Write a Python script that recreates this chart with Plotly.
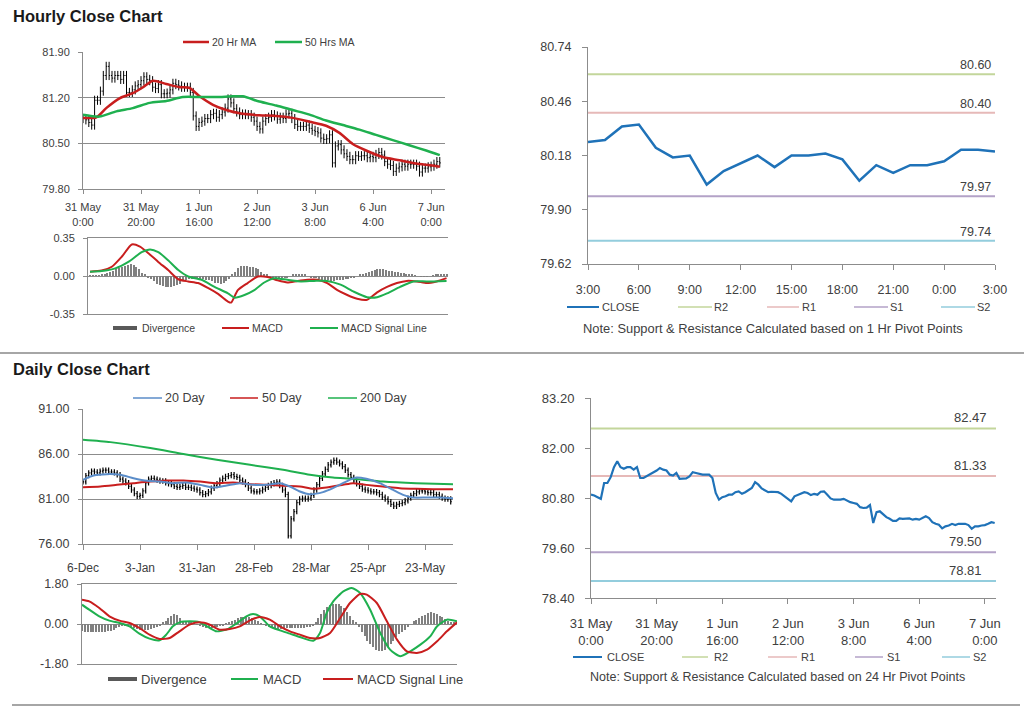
import plotly.graph_objects as go

W, H = 1024, 706
def px(x): return x / W
def py(y): return 1 - y / H

FONT = "Liberation Sans, Arial, Helvetica, sans-serif"
TXT = "#404040"
AX = "#8c8c8c"
GRID = "#8c8c8c"
RED = "#c81e1e"
GREEN = "#1fb04f"
BLUE = "#1f72b8"
LBLUE = "#5b8dc9"
GRAY = "#808080"
PIV_COLORS = ["#c3d69b", "#e6b9b8", "#b3a2c7", "#93cddd"]

# ---------------- data ----------------
# hourly close, 31 May 0:00 .. 7 Jun 3:00 (one value per hour)
hour_close = [
    80.88, 80.86, 80.82, 80.78, 81.16, 81.16, 81.30, 81.54, 81.68, 81.54,
    81.50, 81.54, 81.54, 81.48, 81.54, 81.28, 81.28, 81.32, 81.38, 81.40,
    81.46, 81.52, 81.48, 81.46, 81.36, 81.34, 81.40, 81.26, 81.26, 81.27,
    81.32, 81.42, 81.40, 81.38, 81.36, 81.36, 81.36, 81.28, 80.92, 80.76,
    80.82, 80.84, 80.88, 80.88, 80.94, 80.96, 80.90, 80.94, 80.98, 81.04,
    81.18, 81.12, 81.03, 80.98, 80.94, 80.95, 80.94, 80.94, 80.90, 80.84,
    80.76, 80.72, 80.84, 80.88, 80.90, 80.94, 80.92, 80.87, 80.90, 80.88,
    80.95, 80.96, 80.88, 80.79, 80.76, 80.76, 80.76, 80.78, 80.73, 80.70,
    80.68, 80.66, 80.58, 80.56, 80.57, 80.63, 80.20, 80.46, 80.48, 80.40,
    80.34, 80.30, 80.25, 80.25, 80.31, 80.30, 80.31, 80.31, 80.28, 80.30,
    80.28, 80.33, 80.36, 80.32, 80.22, 80.18, 80.16, 80.07, 80.12, 80.14,
    80.18, 80.15, 80.18, 80.18, 80.18, 80.15, 80.06, 80.12, 80.12, 80.14,
    80.15, 80.18, 80.22, 80.20,
]
hour_tickvals = [0, 20, 40, 60, 80, 100, 120]
hour_ticktext = ["31 May<br>0:00", "31 May<br>20:00", "1 Jun<br>16:00", "2 Jun<br>12:00",
                 "3 Jun<br>8:00", "6 Jun<br>4:00", "7 Jun<br>0:00"]

ma20h_x = [0, 4.6, 8, 12.6, 17.2, 20.7, 24.1, 28.7, 33.3, 36.7, 40.2, 44.8, 49.4, 54, 60.8,
           66.6, 72.3, 78.1, 83.8, 88.4, 93, 97.6, 103.3, 109.1, 114.8, 120.6, 123]
ma20h_y = [80.89, 80.90, 81.04, 81.19, 81.27, 81.36, 81.46, 81.41, 81.36, 81.35, 81.22, 81.09,
           81.01, 80.96, 80.93, 80.92, 80.89, 80.83, 80.77, 80.66, 80.49, 80.39, 80.29, 80.24,
           80.19, 80.16, 80.14]
ma50h_x = [0, 5.7, 11.5, 17.2, 23, 28.7, 34.4, 40.2, 45.9, 51.7, 55.1, 60.8, 66.6, 72.3, 78.1,
           83.8, 89.6, 95.3, 101, 106.8, 112.5, 118.3, 123]
ma50h_y = [80.94, 80.91, 80.99, 81.04, 81.12, 81.15, 81.21, 81.21, 81.21, 81.22, 81.22, 81.14,
           81.08, 81.01, 80.94, 80.85, 80.78, 80.71, 80.63, 80.55, 80.47, 80.39, 80.32]

hmacd_x = [0, 4, 7.5, 11, 14.4, 17.2, 20.1, 23.5, 26.9, 30.4, 33.8, 37.2, 40.6, 44.1, 47.5,
           48.6, 50.9, 54.3, 57.8, 61.2, 64.6, 68, 71.5, 74.9, 78.3, 81.7, 85.2, 88.6, 92,
           95.4, 98.9, 102.3, 105.7, 109.1, 112.6, 116, 119.4, 122.8]
hmacd_y = [0.04, 0.05, 0.085, 0.18, 0.29, 0.27, 0.21, 0.13, 0.055, -0.03, -0.05, -0.065, -0.11,
           -0.165, -0.235, -0.245, -0.13, -0.065, -0.005, -0.01, -0.04, -0.06, -0.045, -0.035,
           -0.035, -0.065, -0.13, -0.175, -0.21, -0.22, -0.15, -0.10, -0.065, -0.045, -0.05,
           -0.065, -0.05, -0.02]
hsig_x = [0, 4, 8.7, 13.2, 17.8, 20.7, 23.5, 26.9, 30.4, 33.8, 38.4, 42.9, 47.5, 49.8, 53.2,
          56.6, 60, 63.5, 68, 72.6, 77.2, 81.7, 86.3, 90.9, 95.4, 98.9, 102.3, 106.8, 111.4,
          116, 122.8]
hsig_y = [0.04, 0.045, 0.07, 0.13, 0.22, 0.245, 0.22, 0.145, 0.055, -0.005, -0.035, -0.10,
          -0.16, -0.20, -0.175, -0.13, -0.06, -0.02, -0.035, -0.05, -0.045, -0.045, -0.08,
          -0.145, -0.195, -0.195, -0.16, -0.10, -0.05, -0.05, -0.045]
hdiv = [
    0.005, 0.005, 0.005, 0.005, 0.01, 0.02, 0.03, 0.04, 0.05, 0.06,
    0.07, 0.08, 0.09, 0.10, 0.11, 0.10, 0.08, 0.06, 0.03, 0.01,
    -0.01, -0.03, -0.05, -0.07, -0.08, -0.09, -0.10, -0.10, -0.10, -0.09,
    -0.08, -0.07, -0.05, -0.04, -0.03, -0.025, -0.02, -0.02, -0.025, -0.03,
    -0.035, -0.04, -0.05, -0.06, -0.065, -0.07, -0.06, -0.05, -0.03, 0.01,
    0.04, 0.07, 0.09, 0.09, 0.09, 0.085, 0.08, 0.07, 0.06, 0.04,
    0.02, 0.01, -0.005, -0.01, -0.015, -0.02, -0.02, -0.015, -0.01, 0.0,
    0.01, 0.02, 0.02, 0.015, 0.01, 0.0, -0.01, -0.015, -0.02, -0.03,
    -0.035, -0.04, -0.04, -0.045, -0.045, -0.04, -0.04, -0.035, -0.03, -0.025,
    -0.02, -0.01, 0.0, 0.01, 0.02, 0.03, 0.04, 0.05, 0.055, 0.06,
    0.06, 0.06, 0.055, 0.05, 0.045, 0.04, 0.035, 0.03, 0.025, 0.02,
    0.015, 0.01, 0.005, 0.0, -0.005, -0.005, -0.005, 0.0, 0.005, 0.01,
    0.015, 0.02, 0.02, 0.02,
]

# last 24 hours (1 Hr pivot chart)
last24_close = [80.25, 80.26, 80.33, 80.34, 80.22, 80.17, 80.18, 80.03, 80.10, 80.14, 80.18,
                80.12, 80.18, 80.18, 80.19, 80.16, 80.05, 80.13, 80.09, 80.13, 80.13, 80.15,
                80.21, 80.21, 80.20]
last24_tickvals = [0, 3, 6, 9, 12, 15, 18, 21, 24]
last24_ticktext = ["3:00", "6:00", "9:00", "12:00", "15:00", "18:00", "21:00", "0:00", "3:00"]

pivot_names = ["R2", "R1", "S1", "S2"]
pivot_1h = [80.60, 80.40, 79.97, 79.74]
pivot_24h = [82.47, 81.33, 79.50, 78.81]

# daily close, 6-Dec .. early June (business days)
daily_close = [
    82.9, 83.6, 83.9, 84.1, 84.0, 83.9, 84.1, 84.2, 84.2, 84.0,
    84.0, 83.9, 83.7, 83.2, 83.0, 82.8, 82.4, 82.0, 81.6, 81.3,
    81.4, 81.9, 82.8, 83.2, 83.3, 83.2, 83.1, 83.0, 83.0, 82.8,
    82.7, 82.6, 82.4, 82.3, 82.4, 82.5, 82.3, 82.3, 82.2, 82.1,
    82.0, 81.7, 81.5, 81.6, 81.8, 82.2, 82.5, 82.7, 83.1, 83.3,
    83.5, 83.6, 83.7, 83.5, 83.4, 83.1, 82.9, 82.6, 82.2, 81.9,
    81.8, 81.8, 81.9, 82.1, 82.3, 82.5, 82.7, 82.8, 82.9, 82.5,
    82.0, 81.5, 76.9, 78.8, 79.6, 80.6, 81.0, 81.1, 81.0, 81.1,
    81.4, 82.0, 82.6, 83.3, 83.8, 84.3, 84.8, 85.1, 85.3, 85.1,
    84.9, 84.6, 84.2, 83.7, 83.4, 83.0, 82.7, 82.4, 82.1, 82.0,
    81.9, 81.8, 81.8, 81.7, 81.5, 81.2, 81.0, 80.7, 80.4, 80.2,
    80.4, 80.5, 80.6, 80.8, 81.1, 81.4, 81.6, 81.8, 81.9, 81.9,
    81.8, 81.7, 81.7, 81.5, 81.5, 81.3, 81.1, 81.0, 81.0, 80.7,
]
daily_tickvals = [0, 20, 40, 60, 80, 100, 120]
daily_ticktext = ["6-Dec", "3-Jan", "31-Jan", "28-Feb", "28-Mar", "25-Apr", "23-May"]

d20_x = [0, 3.7, 8.4, 13.1, 17.7, 22.4, 27.1, 31.7, 36.4, 41.1, 45.7, 50.4, 55.1, 59.7, 64.4,
         69.1, 72.6, 76.1, 79.6, 84.2, 87.7, 91.2, 93.6, 95.9, 99.4, 104.1, 108.8, 112.3,
         115.8, 120.4, 125.1, 129.8]
d20_y = [83.13, 83.61, 83.76, 83.69, 83.31, 83.02, 82.94, 82.76, 82.83, 82.57, 82.27, 82.50,
         82.76, 82.57, 82.57, 82.76, 82.39, 81.83, 81.53, 81.76, 82.20, 82.76, 83.13, 83.39,
         83.24, 82.76, 82.01, 81.46, 81.16, 81.16, 81.16, 81.09]
d50_x = [0, 6.1, 11.9, 17.7, 23.6, 29.4, 35.2, 41.1, 46.9, 52.7, 58.6, 64.4, 70.2, 76.1, 80.7,
         85.4, 91.2, 94.7, 99.4, 105.2, 111.1, 116.9, 122.8, 129.8]
d50_y = [82.31, 82.39, 82.57, 82.76, 82.94, 83.05, 83.05, 82.94, 82.76, 82.83, 82.65, 82.57,
         82.46, 82.39, 82.13, 82.27, 82.57, 82.76, 82.57, 82.39, 82.20, 82.13, 82.09, 82.09]
d200_x = [0, 9.6, 23.6, 35.2, 46.9, 58.6, 70.2, 79.6, 87.7, 94.7, 105.2, 116.9, 129.8]
d200_y = [87.58, 87.32, 86.66, 85.99, 85.36, 84.80, 84.24, 83.69, 83.39, 83.24, 82.94, 82.76,
          82.65]

dmacd_x = [0, 2.5, 6, 9.5, 13, 16.5, 19.9, 23.4, 26.9, 29.2, 31.5, 33.8, 37.3, 40.8, 44.3,
           46.6, 50.1, 53.5, 57, 59.3, 61.6, 65.1, 68.6, 72.1, 75.5, 80.2, 82.5, 84.8, 87.1,
           90.6, 93.5, 96.4, 99.9, 103.4, 106.8, 110.3, 113.8, 117.3, 120.7, 123.1, 126.5, 130]
dmacd_y = [0.87, 0.645, 0.345, 0.15, 0.045, -0.105, -0.435, -0.66, -0.735, -0.48, -0.105,
           0.075, 0.12, 0.075, -0.18, -0.33, -0.255, 0.015, 0.345, 0.45, 0.345, -0.105,
           -0.285, -0.435, -0.585, -0.75, -0.405, 0.495, 1.02, 1.47, 1.62, 1.395, 0.645,
           -0.405, -1.155, -1.455, -1.23, -0.93, -0.555, -0.105, 0.195, 0.12]
dsig_x = [0, 2.5, 6, 9.5, 13, 16.5, 19.9, 23.4, 26.9, 30.4, 33.8, 37.3, 40.8, 44.3, 47.7,
          51.2, 54.7, 58.2, 61.6, 65.1, 68.6, 72.1, 75.5, 79, 82.5, 86, 89.5, 92.9, 96.4,
          98.7, 102.2, 105.7, 109.2, 112.6, 116.1, 119.6, 123.1, 126.5, 130]
dsig_y = [1.095, 1.02, 0.72, 0.345, 0.15, 0.045, -0.18, -0.48, -0.675, -0.63, -0.33, -0.03,
          0.075, -0.03, -0.255, -0.225, -0.105, 0.165, 0.315, 0.195, -0.105, -0.33, -0.48,
          -0.63, -0.63, -0.405, 0.27, 0.945, 1.35, 1.32, 0.945, 0.12, -0.705, -1.23, -1.305,
          -1.155, -0.78, -0.33, 0.075]
ddiv = [
    -0.30, -0.35, -0.38, -0.38, -0.38, -0.37, -0.36, -0.35, -0.35, -0.33, -0.30, -0.25,
    -0.18, -0.12, -0.08, -0.05, -0.08, -0.12,
    -0.18, -0.22, -0.26, -0.28, -0.28, -0.26, -0.22, -0.18, -0.12, -0.05,
    0.05, 0.15, 0.28, 0.38, 0.45, 0.40, 0.25,
    0.15, 0.10, 0.08, 0.05, 0.02, -0.02,
    -0.08, -0.14, -0.18, -0.20, -0.20, -0.18, -0.14, -0.10, -0.05, 0.02,
    0.08, 0.14, 0.20, 0.26, 0.30, 0.33, 0.35, 0.33, 0.28, 0.20, 0.12, 0.04,
    -0.04, -0.10, -0.15, -0.18, -0.20, -0.22, -0.22, -0.21, -0.20, -0.20, -0.19, -0.18,
    -0.18, -0.17, -0.16, -0.15, -0.12, -0.08,
    0.05, 0.25, 0.45, 0.62, 0.75, 0.85, 0.90, 0.92, 0.90, 0.82, 0.70, 0.55, 0.38, 0.20, 0.05,
    -0.15, -0.35, -0.55, -0.75, -0.92, -1.05, -1.15, -1.20, -1.20, -1.15, -1.05, -0.90,
    -0.75, -0.60, -0.45,
    -0.35, -0.25, -0.12, 0.0,
    0.12, 0.20, 0.28, 0.35, 0.42, 0.48, 0.52, 0.50, 0.45, 0.38, 0.30, 0.22,
    0.15, 0.10, 0.08,
]


def ohlc_from_close(close, wick):
    # bar opens at the previous close; wick is a drawing style
    o = [close[0]] + close[:-1]
    hi = [max(a, b) + wick for a, b in zip(o, close)]
    lo = [min(a, b) - wick for a, b in zip(o, close)]
    return o, hi, lo


def fmt(vals):
    return [f"{v:.2f}" for v in vals]


hours = list(range(len(hour_close)))
days = list(range(len(daily_close)))

fig = go.Figure()

# ---- panel 1: hourly bars + MAs ----
o, hi, lo = ohlc_from_close(hour_close, 0.07)
fig.add_trace(go.Ohlc(x=hours, open=o, high=hi, low=lo, close=hour_close, xaxis="x", yaxis="y",
                      increasing=dict(line=dict(color="black", width=1)),
                      decreasing=dict(line=dict(color="black", width=1)),
                      tickwidth=0.35, hoverinfo="skip"))
fig.add_trace(go.Scatter(x=ma20h_x, y=ma20h_y, mode="lines", xaxis="x", yaxis="y",
                         line=dict(color=RED, width=2.5, shape="spline", smoothing=0.7)))
fig.add_trace(go.Scatter(x=ma50h_x, y=ma50h_y, mode="lines", xaxis="x", yaxis="y",
                         line=dict(color=GREEN, width=2.5, shape="spline", smoothing=0.7)))

# ---- panel 2: hourly MACD ----
fig.add_trace(go.Bar(x=hours, y=hdiv, xaxis="x2", yaxis="y2", width=0.35,
                     marker=dict(color=GRAY, line=dict(width=0))))
fig.add_trace(go.Scatter(x=hmacd_x, y=hmacd_y, mode="lines", xaxis="x2", yaxis="y2",
                         line=dict(color=RED, width=2, shape="spline", smoothing=0.6)))
fig.add_trace(go.Scatter(x=hsig_x, y=hsig_y, mode="lines", xaxis="x2", yaxis="y2",
                         line=dict(color=GREEN, width=2, shape="spline", smoothing=0.6)))

# ---- panel 3: last 24 hours with 1 Hr pivots ----
X3 = [0, 24]
for v, c in zip(pivot_1h, PIV_COLORS):
    fig.add_trace(go.Scatter(x=X3, y=[v, v], mode="lines", xaxis="x3", yaxis="y3",
                             line=dict(color=c, width=2)))
fig.add_trace(go.Scatter(x=list(range(len(last24_close))), y=last24_close, mode="lines",
                         xaxis="x3", yaxis="y3", line=dict(color=BLUE, width=2.5)))

# ---- panel 4: daily bars + MAs ----
o, hi, lo = ohlc_from_close(daily_close, 0.3)
fig.add_trace(go.Ohlc(x=days, open=o, high=hi, low=lo, close=daily_close, xaxis="x4", yaxis="y4",
                      increasing=dict(line=dict(color="black", width=1.2)),
                      decreasing=dict(line=dict(color="black", width=1.2)),
                      tickwidth=0.35, hoverinfo="skip"))
fig.add_trace(go.Scatter(x=d200_x, y=d200_y, mode="lines", xaxis="x4", yaxis="y4",
                         line=dict(color=GREEN, width=2, shape="spline", smoothing=0.6)))
fig.add_trace(go.Scatter(x=d50_x, y=d50_y, mode="lines", xaxis="x4", yaxis="y4",
                         line=dict(color=RED, width=2, shape="spline", smoothing=0.6)))
fig.add_trace(go.Scatter(x=d20_x, y=d20_y, mode="lines", xaxis="x4", yaxis="y4",
                         line=dict(color=LBLUE, width=2, shape="spline", smoothing=0.6)))

# ---- panel 5: daily MACD ----
fig.add_trace(go.Bar(x=days, y=ddiv, xaxis="x5", yaxis="y5", width=0.45,
                     marker=dict(color=GRAY, line=dict(width=0))))
fig.add_trace(go.Scatter(x=dmacd_x, y=dmacd_y, mode="lines", xaxis="x5", yaxis="y5",
                         line=dict(color=GREEN, width=2, shape="spline", smoothing=0.6)))
fig.add_trace(go.Scatter(x=dsig_x, y=dsig_y, mode="lines", xaxis="x5", yaxis="y5",
                         line=dict(color=RED, width=2, shape="spline", smoothing=0.6)))

# ---- panel 6: hourly close with 24 Hr pivots ----
X6 = [0, 123.4]
for v, c in zip(pivot_24h, PIV_COLORS):
    fig.add_trace(go.Scatter(x=X6, y=[v, v], mode="lines", xaxis="x6", yaxis="y6",
                             line=dict(color=c, width=2)))
fig.add_trace(go.Scatter(x=hours, y=hour_close, mode="lines", xaxis="x6", yaxis="y6",
                         line=dict(color=BLUE, width=2.2)))


def xax(l, r, rng, **kw):
    d = dict(domain=[px(l), px(r)], range=rng, showline=True, linecolor=AX, linewidth=1,
             showgrid=False, zeroline=False, fixedrange=True, tickcolor=AX, automargin=False)
    d.update(kw)
    return d


def yax(t, b, rng, vals, size, grid, **kw):
    d = dict(domain=[py(b), py(t)], range=rng, tickvals=vals, ticktext=fmt(vals),
             showline=True, linecolor=AX, linewidth=1, showgrid=grid, gridcolor=GRID,
             gridwidth=1, zeroline=False, ticks="outside", ticklen=4, tickcolor=AX,
             tickfont=dict(size=size, color=TXT), fixedrange=True, automargin=False)
    d.update(kw)
    return d


layout = dict(
    template="none",
    width=W, height=H, margin=dict(l=0, r=0, t=0, b=0, pad=0, autoexpand=False),
    paper_bgcolor="white", plot_bgcolor="white", showlegend=False,
    font=dict(family=FONT, color=TXT), bargap=0,
    xaxis=xax(83, 445, [0, 124.8], anchor="y", tickvals=hour_tickvals, ticktext=hour_ticktext,
              ticks="outside", ticklen=4, tickfont=dict(size=11, color=TXT),
              ticklabelstandoff=4, rangeslider=dict(visible=False)),
    yaxis=yax(52, 189, [79.8, 81.9], [79.8, 80.5, 81.2, 81.9], 11, True, anchor="x",
              ticklabelstandoff=6),
    xaxis2=xax(88, 448, [-0.7, 123.3], anchor="y2", showticklabels=False, ticks="",
               mirror=True),
    yaxis2=yax(238, 314, [-0.35, 0.35], [-0.35, 0, 0.35], 11, False, anchor="x2",
               ticklabelstandoff=6, zeroline=True, zerolinecolor=AX, zerolinewidth=1),
    xaxis3=xax(588, 995, [0, 24], anchor="y3", tickvals=last24_tickvals,
               ticktext=last24_ticktext, ticks="outside", ticklen=5,
               tickfont=dict(size=12.5, color=TXT), ticklabelstandoff=9),
    yaxis3=yax(47, 264, [79.62, 80.74], [79.62, 79.90, 80.18, 80.46, 80.74], 12.5, False,
               anchor="x3", ticklen=5, ticklabelstandoff=8),
    xaxis4=xax(83, 453, [0, 129.8], anchor="y4", tickvals=daily_tickvals,
               ticktext=daily_ticktext, ticks="outside", ticklen=5,
               tickfont=dict(size=12, color=TXT), ticklabelstandoff=8,
               rangeslider=dict(visible=False)),
    yaxis4=yax(409, 544, [76, 91], [76, 81, 86, 91], 12.5, True, anchor="x4",
               ticklabelstandoff=6),
    xaxis5=xax(82, 457, [0, 130], anchor="y5", showticklabels=False, ticks="", mirror=True),
    yaxis5=yax(584, 664, [-1.8, 1.8], [-1.8, 0, 1.8], 12.5, False, anchor="x5",
               ticklabelstandoff=6, zeroline=True, zerolinecolor=AX, zerolinewidth=1),
    xaxis6=xax(591, 996, [0, 123.4], anchor="y6", tickvals=hour_tickvals,
               ticktext=hour_ticktext, ticks="outside", ticklen=5,
               tickfont=dict(size=13, color=TXT), ticklabelstandoff=8),
    yaxis6=yax(398, 598, [78.4, 83.2], [78.4, 79.6, 80.8, 82.0, 83.2], 13, False,
               anchor="x6", ticklen=5, ticklabelstandoff=8),
)

shapes = []
annotations = []


def leg_line(x0, x1, y, color, w=2):
    shapes.append(dict(type="line", xref="paper", yref="paper", x0=px(x0), x1=px(x1),
                       y0=py(y), y1=py(y), line=dict(color=color, width=w)))


def leg_box(x0, x1, y0, y1, color):
    shapes.append(dict(type="rect", xref="paper", yref="paper", x0=px(x0), x1=px(x1),
                       y0=py(y1), y1=py(y0), fillcolor=color, line=dict(width=0)))


def label(x, y, s, size, anchor="left", color=TXT):
    annotations.append(dict(xref="paper", yref="paper", x=px(x), y=py(y), text=s,
                            showarrow=False, xanchor=anchor, yanchor="middle", borderpad=0,
                            font=dict(size=size, color=color)))


# titles
label(12, 16, "<b>Hourly Close Chart</b>", 16.5, color="#1a1a1a")
label(12, 369, "<b>Daily Close Chart</b>", 16.5, color="#1a1a1a")

# separators
shapes.append(dict(type="line", xref="paper", yref="paper", x0=0, x1=1, y0=py(353), y1=py(353),
                   line=dict(color="#a6a6a6", width=2)))
shapes.append(dict(type="line", xref="paper", yref="paper", x0=px(12), x1=px(1020),
                   y0=py(705), y1=py(705), line=dict(color="#a6a6a6", width=2)))

# legends - hourly price
leg_line(183, 209, 42, RED, 2.5); label(211, 42, "20 Hr MA", 10.5)
leg_line(275, 302, 42, GREEN, 2.5); label(304, 42, "50 Hrs MA", 10.5)
# hourly MACD
leg_box(113, 137, 326, 330, "#595959"); label(141, 328, "Divergence", 10.5)
leg_line(222, 249, 328, RED, 2); label(251, 328, "MACD", 10.5)
leg_line(310, 338, 328, GREEN, 2); label(340, 328, "MACD Signal Line", 10.5)
# 1 Hr pivots
leg_line(567, 599, 307, BLUE, 2); label(601, 307, "CLOSE", 11)
for (x0, x1, tx), n, c in zip([(678, 712, 713), (767, 799, 801), (854, 888, 889), (941, 975, 976)],
                              pivot_names, PIV_COLORS):
    leg_line(x0, x1, 307, c, 1.5); label(tx, 307, n, 11)
label(773, 328, "Note: Support &amp; Resistance Calculated based on 1 Hr Pivot Points", 12.9,
      anchor="center")
# daily price
leg_line(133, 162, 398, LBLUE, 1.5); label(164, 398, "20 Day", 12.5)
leg_line(230, 258, 398, RED, 1.5); label(261, 398, "50 Day", 12.5)
leg_line(328, 357, 398, GREEN, 1.5); label(359, 398, "200 Day", 12.5)
# daily MACD
leg_box(108, 137, 677, 681, "#595959"); label(140, 679, "Divergence", 13)
leg_line(231, 258, 679, GREEN, 2); label(262, 679, "MACD", 13)
leg_line(323, 353, 679, RED, 2); label(356, 679, "MACD Signal Line", 13)
# 24 Hr pivots
leg_line(573, 602, 657, BLUE, 2); label(606, 657, "CLOSE", 11)
for (x0, x1, tx), n, c in zip([(682, 708, 713), (768, 797, 800), (855, 883, 886), (942, 970, 972)],
                              pivot_names, PIV_COLORS):
    leg_line(x0, x1, 657, c, 1.5); label(tx, 657, n, 11)
label(777, 677, "Note: Support &amp; Resistance Calculated based on 24 Hr Pivot Points", 12.5,
      anchor="center")

# pivot value labels
for v in pivot_1h:
    annotations.append(dict(xref="x3 domain", yref="y3", x=1, y=v, text=f"{v:.2f}",
                            showarrow=False, xanchor="right", yanchor="bottom", xshift=-3,
                            yshift=1, borderpad=0, font=dict(size=12.5, color=TXT)))
for v, xs in zip(pivot_24h, [-8, -8, -13, -13]):
    annotations.append(dict(xref="x6 domain", yref="y6", x=1, y=v, text=f"{v:.2f}",
                            showarrow=False, xanchor="right", yanchor="bottom", xshift=xs,
                            yshift=2, borderpad=0, font=dict(size=13, color=TXT)))

layout["shapes"] = shapes
layout["annotations"] = annotations
fig.update_layout(**layout)

fig.write_html("out.html", config={"displayModeBar": False},
               post_script="document.body.style.margin='0';document.body.style.overflow='hidden';")
